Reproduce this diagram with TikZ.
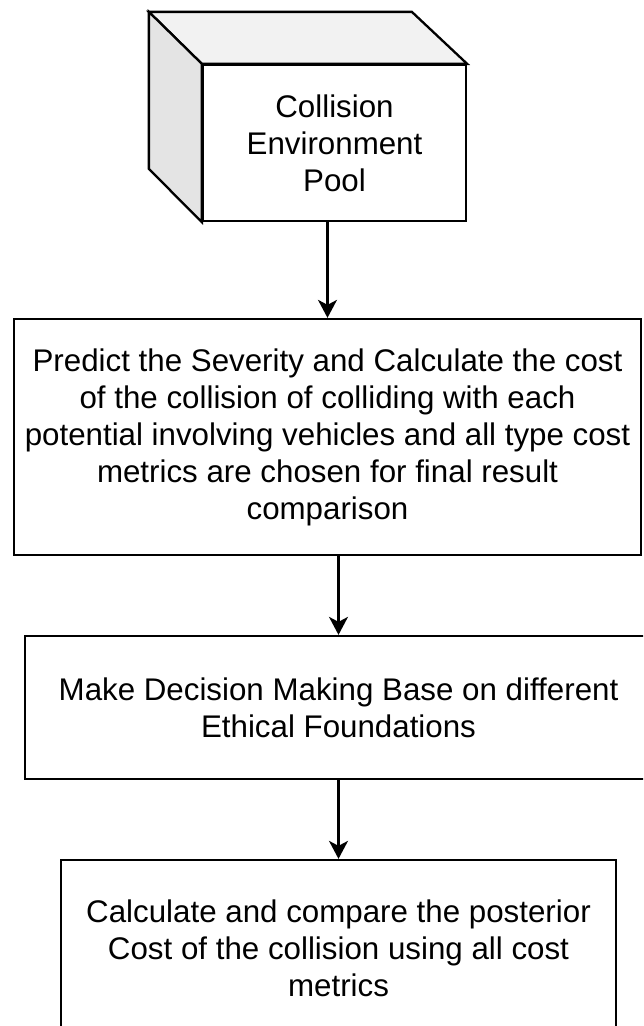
\documentclass[tikz,border=0pt]{standalone}
\usepackage{fontspec}
\setmainfont{Liberation Sans}
\usepackage{tikz}
\usetikzlibrary{arrows.meta,positioning,calc}
\definecolor{cubetop}{RGB}{242,242,242}
\definecolor{cubeside}{RGB}{228,228,228}
\tikzset{
  procbox/.style={draw=black, line width=2.3pt, fill=white, inner sep=0pt, align=center, font=\fontsize{31.3}{37}\selectfont},
  cubeface/.style={draw=black, line width=2.3pt},
  arr/.style={-{Stealth[length=18pt,width=19pt,inset=5pt]}, black, line width=2.1pt},
}
\begin{document}
\begin{tikzpicture}[x=1pt,y=-1pt]
  \useasboundingbox (0,0) rectangle (643,1026);
  \clip (0,0) rectangle (643,1026);
  \node[procbox, minimum width=263pt, minimum height=156pt] (pool) at (334.5,143) {Collision\\Environment\\Pool};
  \draw[cubeface, fill=cubetop] (pool.north west) -- ++(-53,-52) -- ++(263,0) -- (pool.north east) -- cycle;
  \draw[cubeface, fill=cubeside] (pool.north west) -- ++(-53,-52) -- ++(0,157) -- (pool.south west) -- cycle;
  \node[procbox, minimum width=627pt, minimum height=236pt] (predict) at (327.5,437) {Predict the Severity and Calculate the cost\\of the collision of colliding with each\\potential involving vehicles and all type cost\\metrics are chosen for final result\\comparison};
  \node[procbox, minimum width=627pt, minimum height=143pt] (decide) at (338.5,707.5) {Make Decision Making Base on different\\Ethical Foundations};
  \node[procbox, minimum width=555pt, minimum height=176pt] (posterior) at (338.5,948) {Calculate and compare the posterior\\Cost of the collision using all cost\\metrics};
  \draw[arr] (pool.south -| predict.north) -- (predict.north);
  \draw[arr] (predict.south -| decide.north) -- (decide.north);
  \draw[arr] (decide.south) -- (posterior.north);
\end{tikzpicture}
\end{document}
